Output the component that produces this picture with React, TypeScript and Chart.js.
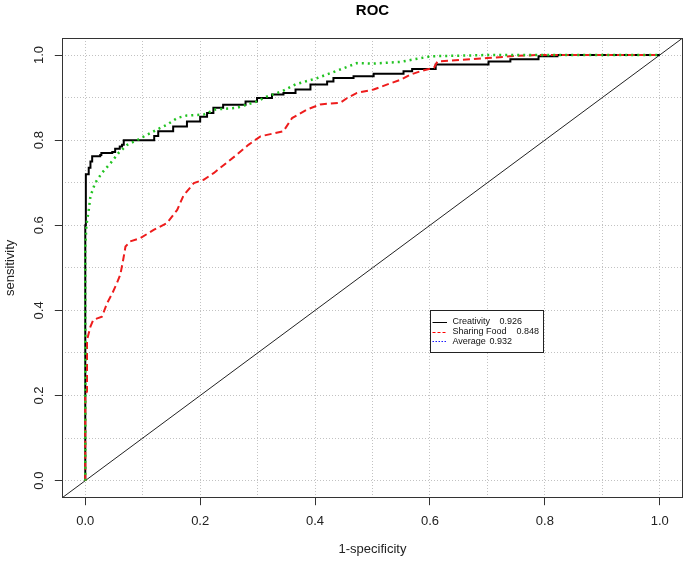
import React, { useEffect, useRef } from "react";
import { Chart, registerables } from "chart.js";

Chart.register(...registerables);

// ---------- data ----------
const creativityX = [0, 0, 0.001, 0.001, 0.006, 0.009, 0.012, 0.026, 0.028, 0.047, 0.052, 0.06, 0.064, 0.067, 0.116, 0.12, 0.127, 0.153, 0.177, 0.2, 0.212, 0.223, 0.24, 0.279, 0.299, 0.325, 0.345, 0.366, 0.392, 0.421, 0.432, 0.467, 0.502, 0.554, 0.569, 0.61, 0.702, 0.74, 0.789, 0.822, 1.0];
const creativityY = [0, 0.6, 0.61, 0.72, 0.735, 0.75, 0.762, 0.765, 0.77, 0.772, 0.78, 0.785, 0.789, 0.8, 0.8, 0.81, 0.821, 0.832, 0.844, 0.855, 0.864, 0.876, 0.883, 0.891, 0.899, 0.907, 0.911, 0.919, 0.931, 0.938, 0.946, 0.95, 0.956, 0.962, 0.967, 0.978, 0.985, 0.99, 0.997, 1.0, 1.0];

const sharingX = [0, 0, 0.003, 0.003, 0.009, 0.014, 0.029, 0.038, 0.047, 0.055, 0.061, 0.066, 0.07, 0.078, 0.096, 0.119, 0.142, 0.16, 0.171, 0.189, 0.206, 0.224, 0.247, 0.264, 0.284, 0.305, 0.345, 0.36, 0.386, 0.409, 0.444, 0.456, 0.473, 0.502, 0.526, 0.549, 0.566, 0.584, 0.607, 0.613, 0.7, 0.752, 0.787, 1.0];
const sharingY = [0, 0.2, 0.21, 0.33, 0.362, 0.378, 0.385, 0.417, 0.44, 0.464, 0.484, 0.519, 0.55, 0.562, 0.57, 0.589, 0.605, 0.636, 0.67, 0.699, 0.707, 0.723, 0.748, 0.766, 0.789, 0.809, 0.821, 0.852, 0.872, 0.884, 0.888, 0.899, 0.911, 0.919, 0.931, 0.942, 0.954, 0.962, 0.97, 0.985, 0.993, 0.998, 1.0, 1.0];

const averageX = [0, 0, 0.002, 0.006, 0.009, 0.017, 0.029, 0.044, 0.058, 0.073, 0.09, 0.125, 0.142, 0.16, 0.177, 0.206, 0.226, 0.264, 0.299, 0.317, 0.343, 0.366, 0.404, 0.432, 0.473, 0.502, 0.549, 0.601, 0.7, 1.0];
const averageY = [0, 0.55, 0.6, 0.636, 0.668, 0.699, 0.723, 0.746, 0.77, 0.789, 0.8, 0.825, 0.836, 0.852, 0.858, 0.86, 0.872, 0.876, 0.891, 0.903, 0.915, 0.931, 0.946, 0.96, 0.981, 0.98, 0.984, 0.997, 1.0, 1.0];

const diagonalX = [-0.04, 1.04];
const diagonalY = [-0.04, 1.04];

const gridValues = [0, 0.1, 0.2, 0.3, 0.4, 0.5, 0.6, 0.7, 0.8, 0.9, 1.0];
const tickValues = [0, 0.2, 0.4, 0.6, 0.8, 1.0];
const tickLabels = ["0.0", "0.2", "0.4", "0.6", "0.8", "1.0"];

const seriesNames = ["Creativity", "Sharing Food", "Average"];
const aucLabels = ["0.926", "0.848", "0.932"];
const legendAnchor = [0.6, 0.4];

const titleText = "ROC";
const xTitle = "1-specificity";
const yTitle = "sensitivity";

// ---------- helpers ----------
const FONT = "'Liberation Sans', Arial, sans-serif";
const zip = (xs: number[], ys: number[]) => xs.map((x, i) => ({ x, y: ys[i] }));
const tickIndex = (v: number) => tickValues.findIndex((t) => Math.abs(t - v) < 1e-6);

const legendStyles = [
  { color: "#000000", dash: [] as number[] },
  { color: "#ff0000", dash: [3, 2] },
  { color: "#1a1aff", dash: [1.5, 1.5] },
];
const legendValueOffsets = [69, 86, 59];

const rPlotPlugin = {
  id: "rPlot",
  afterDraw(chart: any) {
    const { ctx, chartArea, scales } = chart;
    const xs = scales.x;
    const ys = scales.y;
    ctx.save();
    // plot box
    ctx.strokeStyle = "#333";
    ctx.lineWidth = 1;
    ctx.setLineDash([]);
    const l = Math.round(chartArea.left) + 0.5;
    const t = Math.round(chartArea.top) + 0.5;
    const r = Math.round(chartArea.right) - 0.5;
    const b = Math.round(chartArea.bottom) - 0.5;
    ctx.strokeRect(l, t, r - l, b - t);

    // rotated y tick labels
    ctx.fillStyle = "#222";
    ctx.font = `13px ${FONT}`;
    ctx.textAlign = "center";
    ctx.textBaseline = "middle";
    tickValues.forEach((v, i) => {
      const py = ys.getPixelForValue(v);
      ctx.save();
      ctx.translate(39, py);
      ctx.rotate(-Math.PI / 2);
      ctx.fillText(tickLabels[i], 0, 0);
      ctx.restore();
    });

    // legend anchored at data coords
    const lx = Math.round(xs.getPixelForValue(legendAnchor[0])) + 0.5;
    const ly = Math.round(ys.getPixelForValue(legendAnchor[1])) + 0.5;
    const lw = 113;
    const lh = 42;
    ctx.fillStyle = "#fff";
    ctx.fillRect(lx, ly, lw, lh);
    ctx.strokeStyle = "#222";
    ctx.lineWidth = 1;
    ctx.strokeRect(lx, ly, lw, lh);
    ctx.font = `9px ${FONT}`;
    ctx.textAlign = "left";
    ctx.textBaseline = "middle";
    seriesNames.forEach((name, i) => {
      const yy = ly + 11.5 + i * 9.7;
      const st = legendStyles[i];
      ctx.strokeStyle = st.color;
      ctx.setLineDash(st.dash);
      ctx.lineWidth = 1;
      ctx.beginPath();
      ctx.moveTo(lx + 2, Math.round(yy) + 0.5);
      ctx.lineTo(lx + 16.5, Math.round(yy) + 0.5);
      ctx.stroke();
      ctx.setLineDash([]);
      ctx.fillStyle = "#111";
      ctx.fillText(name, lx + 22, yy);
      ctx.fillText(aucLabels[i], lx + legendValueOffsets[i], yy);
    });
    ctx.restore();
  },
};

export default function App() {
  const ref = useRef<HTMLCanvasElement | null>(null);

  useEffect(() => {
    if (!ref.current) return;
    const gridOpts = {
      color: "#c2c2c2",
      lineWidth: 1,
      drawTicks: true,
      tickLength: 7.5,
      tickWidth: 1,
      tickColor: (c: any) => (tickIndex(c.tick?.value) >= 0 ? "#333" : "rgba(0,0,0,0)"),
    };
    const chart = new Chart(ref.current, {
      type: "line",
      data: {
        datasets: [
          {
            label: seriesNames[2],
            data: zip(averageX, averageY),
            borderColor: "#22c322",
            borderWidth: 2.5,
            borderDash: [2, 4],
            pointRadius: 0,
            tension: 0,
            fill: false,
            order: 0,
          },
          {
            label: seriesNames[1],
            data: zip(sharingX, sharingY),
            borderColor: "#ee1c1c",
            borderWidth: 2,
            borderDash: [7, 4],
            pointRadius: 0,
            tension: 0,
            fill: false,
            order: 1,
          },
          {
            label: seriesNames[0],
            data: zip(creativityX, creativityY),
            borderColor: "#000000",
            borderWidth: 2,
            stepped: true,
            pointRadius: 0,
            fill: false,
            order: 2,
          },
          {
            label: "reference",
            data: zip(diagonalX, diagonalY),
            borderColor: "#222",
            borderWidth: 1,
            pointRadius: 0,
            tension: 0,
            fill: false,
            order: 3,
          },
        ],
      },
      options: {
        animation: false,
        responsive: false,
        devicePixelRatio: 1,
        layout: { padding: { left: 0, right: 2.3, top: 0, bottom: 0 } },
        plugins: {
          legend: { display: false },
          tooltip: { enabled: false },
          title: {
            display: true,
            text: titleText,
            fullSize: false,
            color: "#000",
            font: { family: FONT, size: 15, weight: "bold" },
            padding: { top: 2, bottom: 18 },
          },
        },
        scales: {
          x: {
            type: "linear",
            min: -0.04,
            max: 1.04,
            afterBuildTicks: (s: any) => {
              s.ticks = gridValues.map((v) => ({ value: v }));
            },
            afterFit: (s: any) => {
              s.height = 65.3;
            },
            border: { display: false, dash: [1, 2] },
            grid: gridOpts,
            ticks: {
              autoSkip: false,
              maxRotation: 0,
              minRotation: 0,
              padding: 8,
              color: "#222",
              font: { family: FONT, size: 13 },
              callback: (v: any) => {
                const i = tickIndex(Number(v));
                return i >= 0 ? tickLabels[i] : "";
              },
            },
            title: {
              display: true,
              text: xTitle,
              color: "#222",
              font: { family: FONT, size: 13 },
              padding: { top: 0, bottom: 6.2 },
            },
          },
          y: {
            type: "linear",
            min: -0.04,
            max: 1.04,
            afterBuildTicks: (s: any) => {
              s.ticks = gridValues.map((v) => ({ value: v }));
            },
            afterFit: (s: any) => {
              s.width = 62.3;
            },
            border: { display: false, dash: [1, 2] },
            grid: gridOpts,
            ticks: { display: false },
            title: {
              display: true,
              text: yTitle,
              color: "#222",
              font: { family: FONT, size: 13 },
              padding: { top: 2.2, bottom: 0 },
            },
          },
        },
      },
      plugins: [rPlotPlugin],
    } as any);
    return () => chart.destroy();
  }, []);

  return (
    <div style={{ position: "fixed", left: 0, top: 0, width: 685, height: 563, background: "#fff" }}>
      <canvas ref={ref} width={685} height={563} style={{ width: 685, height: 563, display: "block" }} />
    </div>
  );
}
